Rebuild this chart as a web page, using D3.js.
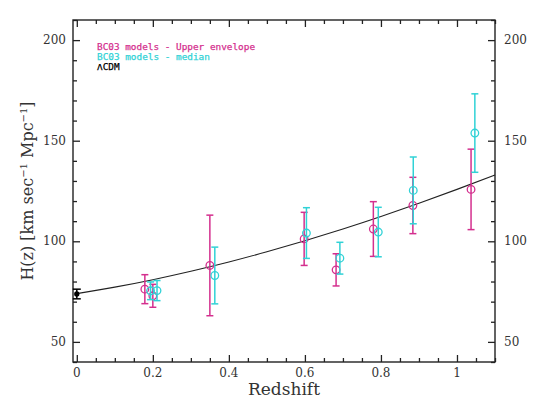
<!DOCTYPE html>
<html>
<head>
<meta charset="utf-8">
<script src="https://cdn.jsdelivr.net/npm/d3@7"></script>
<style>
  html, body { margin: 0; padding: 0; background: #fff; }
  svg { display: block; }
</style>
</head>
<body>
<div id="chart"></div>
<script>
// BC03 models - upper envelope
const zUpper   = [0.179, 0.200, 0.350, 0.598, 0.682, 0.780, 0.884, 1.037];
const hUpper   = [76.2, 72.9, 88.0, 101.2, 85.8, 106.1, 117.8, 125.8];
const errUpper = [7.2, 5.7, 25.0, 13.2, 8.0, 13.6, 14.0, 20.0];

// BC03 models - median
const zMedian   = [0.194, 0.211, 0.363, 0.604, 0.692, 0.793, 0.885, 1.047];
const hMedian   = [75.4, 75.5, 83.0, 104.1, 91.6, 104.6, 125.3, 153.8];
const errMedian = [4.4, 5.0, 14.1, 12.6, 7.9, 12.3, 16.6, 19.5];

// local H0 point
const zLocal = [0];
const hLocal = [73.8];
const errLocal = [2.4];

// LCDM curve
const zCurve = [0, 0.1, 0.2, 0.3, 0.4, 0.5, 0.6, 0.7, 0.8, 0.9, 1.0, 1.1];
const hCurve = [74.0, 77.2, 80.9, 85.1, 89.7, 94.8, 100.3, 106.1, 112.3, 118.9, 125.8, 133.0];

const xTicks = [0, 0.2, 0.4, 0.6, 0.8, 1];
const yTicks = [50, 100, 150, 200];
const legendLabels = ["BC03 models - Upper envelope", "BC03 models - median", "\u039BCDM"];

const width = 546, height = 408;
const margin = { left: 73, right: 51, top: 20, bottom: 46 };
const magenta = "#d42f8e";
const cyan = "#30d2d6";
const ink = "#222";

const svg = d3.select("#chart").append("svg")
	.attr("width", width)
	.attr("height", height);

const x = d3.scaleLinear().domain([-0.01, 1.1]).range([margin.left, width - margin.right]);
const y = d3.scaleLinear().domain([40, 210]).range([height - margin.bottom, margin.top]);

const x0 = x.range()[0], x1 = x.range()[1];
const y0 = y.range()[0], y1 = y.range()[1];

// minor + major ticks, pointing inward on all four sides
const xMinor = d3.range(0, 1.1001, 0.05).map(d => +d.toFixed(2));
const yMinor = d3.range(40, 210.001, 10);
const isMajorX = d => xTicks.some(t => Math.abs(t - d) < 1e-6);
const isMajorY = d => yTicks.indexOf(d) >= 0;

function tickAxis(axisFn, scale, vals, isMajor, tx, ty) {
	const g = svg.append("g").attr("transform", `translate(${tx},${ty})`);
	g.call(axisFn(scale).tickValues(vals).tickSizeOuter(0).tickFormat(""));
	g.select(".domain").remove();
	g.selectAll(".tick line")
		.attr("stroke", ink)
		.attr("stroke-width", 1.3)
		.each(function(d) {
			const len = isMajor(d) ? 7 : 4;
			const sel = d3.select(this);
			if (axisFn === d3.axisBottom) sel.attr("y2", -len);
			if (axisFn === d3.axisTop) sel.attr("y2", len);
			if (axisFn === d3.axisLeft) sel.attr("x2", len);
			if (axisFn === d3.axisRight) sel.attr("x2", -len);
		});
	return g;
}
tickAxis(d3.axisBottom, x, xMinor, isMajorX, 0, y0);
tickAxis(d3.axisTop, x, xMinor, isMajorX, 0, y1);
tickAxis(d3.axisLeft, y, yMinor, isMajorY, x0, 0);
tickAxis(d3.axisRight, y, yMinor, isMajorY, x1, 0);

// frame
svg.append("rect")
	.attr("x", x0).attr("y", y1)
	.attr("width", x1 - x0).attr("height", y0 - y1)
	.attr("fill", "none")
	.attr("stroke", ink)
	.attr("stroke-width", 1.4);

// tick labels
const labelFont = "'DejaVu Serif', serif";
svg.append("g").selectAll("text")
	.data(xTicks)
	.join("text")
	.attr("x", d => x(d))
	.attr("y", y0 + 15)
	.attr("text-anchor", "middle")
	.style("font", `12px ${labelFont}`)
	.attr("fill", "#333")
	.text(d => d === 0 ? "0" : d3.format("")(d));

svg.append("g").selectAll("text")
	.data(yTicks)
	.join("text")
	.attr("x", x0 - 7)
	.attr("y", d => y(d) + 4)
	.attr("text-anchor", "end")
	.style("font", `12px ${labelFont}`)
	.attr("fill", "#333")
	.text(d => d);

svg.append("g").selectAll("text")
	.data(yTicks)
	.join("text")
	.attr("x", x1 + 9)
	.attr("y", d => y(d) + 4)
	.attr("text-anchor", "start")
	.style("font", `12px ${labelFont}`)
	.attr("fill", "#333")
	.text(d => d);

// axis titles
svg.append("text")
	.attr("x", (x0 + x1) / 2)
	.attr("y", 395)
	.attr("text-anchor", "middle")
	.style("font", `17px ${labelFont}`)
	.attr("fill", "#333")
	.text("Redshift");

const yTitle = svg.append("text")
	.attr("transform", `translate(33,${(y0 + y1) / 2}) rotate(-90)`)
	.attr("text-anchor", "middle")
	.style("font", `16px ${labelFont}`)
	.attr("fill", "#333");
yTitle.append("tspan").text("H(z) [km sec");
yTitle.append("tspan").attr("dy", -6).style("font-size", "10px").text("\u22121");
yTitle.append("tspan").attr("dy", 6).text(" Mpc");
yTitle.append("tspan").attr("dy", -6).style("font-size", "10px").text("\u22121");
yTitle.append("tspan").attr("dy", 6).text("]");

// LCDM curve
const line = d3.line()
	.x((d, i) => x(zCurve[i]))
	.y(d => y(d))
	.curve(d3.curveNatural);
svg.append("path")
	.datum(hCurve)
	.attr("d", line)
	.attr("fill", "none")
	.attr("stroke", ink)
	.attr("stroke-width", 1.1);

// error bars + markers
function drawSeries(zs, hs, errs, color, filled) {
	const g = svg.append("g");
	const pts = zs.map((z, i) => ({ z: z, h: hs[i], e: errs[i] }));
	const cap = filled ? 4 : 3.5;
	g.selectAll("line.bar").data(pts).join("line")
		.attr("x1", d => x(d.z)).attr("x2", d => x(d.z))
		.attr("y1", d => y(d.h - d.e)).attr("y2", d => y(d.h + d.e))
		.attr("stroke", color).attr("stroke-width", 1.5);
	g.selectAll("line.top").data(pts).join("line")
		.attr("x1", d => x(d.z) - cap).attr("x2", d => x(d.z) + cap)
		.attr("y1", d => y(d.h + d.e)).attr("y2", d => y(d.h + d.e))
		.attr("stroke", color).attr("stroke-width", 1.5);
	g.selectAll("line.bot").data(pts).join("line")
		.attr("x1", d => x(d.z) - cap).attr("x2", d => x(d.z) + cap)
		.attr("y1", d => y(d.h - d.e)).attr("y2", d => y(d.h - d.e))
		.attr("stroke", color).attr("stroke-width", 1.5);
	g.selectAll("circle").data(pts).join("circle")
		.attr("cx", d => x(d.z)).attr("cy", d => y(d.h))
		.attr("r", filled ? 2 : 3.8)
		.attr("fill", filled ? color : "#fff")
		.attr("fill-opacity", filled ? 1 : 0)
		.attr("stroke", color)
		.attr("stroke-width", 1.3);
}
drawSeries(zUpper, hUpper, errUpper, magenta, false);
drawSeries(zMedian, hMedian, errMedian, cyan, false);
drawSeries(zLocal, hLocal, errLocal, "#000", true);

// legend
const legendColors = [magenta, cyan, "#000"];
svg.append("g").selectAll("text")
	.data(legendLabels)
	.join("text")
	.attr("x", 97)
	.attr("y", (d, i) => 50 + i * 10)
	.style("font", "9.4px 'DejaVu Sans Mono', monospace")
	.attr("fill", (d, i) => legendColors[i])
	.attr("stroke", (d, i) => legendColors[i])
	.attr("stroke-width", 0.25)
	.text(d => d);
</script>
</body>
</html>
